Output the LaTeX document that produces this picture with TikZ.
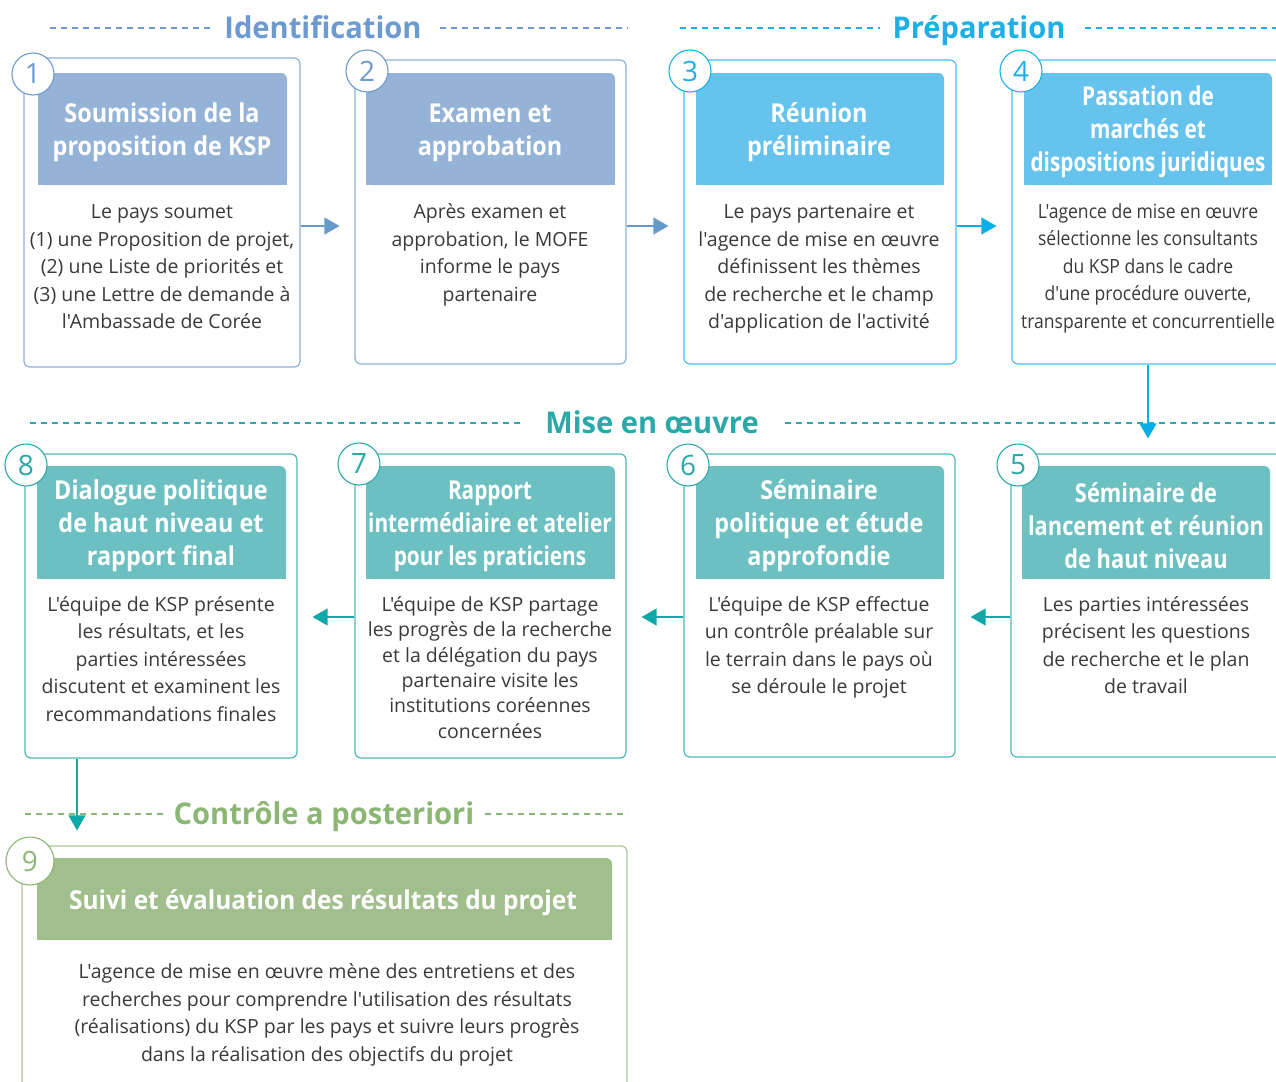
\documentclass[tikz,border=0pt]{standalone}
\usepackage{fontspec}
\usetikzlibrary{arrows.meta}
\newfontfamily\bodyfont{Open Sans}
\newfontfamily\bodycond{Open Sans}[FakeStretch=0.9]
\newfontfamily\hdfont{Open Sans}[FakeStretch=0.9]
\newfontfamily\hdcond{Open Sans}[FakeStretch=0.8]
\newfontfamily\hdcondb{Open Sans}[FakeStretch=0.84]
\newfontfamily\hdwide{Open Sans}[FakeStretch=0.94]
\newfontfamily\secfont{Open Sans}[FakeStretch=0.97]
\definecolor{idhead}{HTML}{6D9AD0}
\definecolor{idfill}{HTML}{95B3D7}
\definecolor{idline}{HTML}{8DB0DA}
\definecolor{idarrow}{HTML}{6699CC}
\definecolor{prhead}{HTML}{1CB0E6}
\definecolor{prfill}{HTML}{66C3EE}
\definecolor{prline}{HTML}{4CBEEA}
\definecolor{prarrow}{HTML}{0AAEE6}
\definecolor{mihead}{HTML}{2BA9A9}
\definecolor{mifill}{HTML}{6CC0C2}
\definecolor{miline}{HTML}{4FB8B8}
\definecolor{miarrow}{HTML}{10A7A8}
\definecolor{cohead}{HTML}{8BB673}
\definecolor{cofill}{HTML}{A1BF8C}
\definecolor{coline}{HTML}{A9C997}
\definecolor{txt}{HTML}{3A3A3A}
\newcommand\hdrbox[5]{%
  \fill[#1,rounded corners=6pt] (#2,#3) rectangle (#4,#5);
  \fill[#1] (#2,#3) rectangle ({#4-7},#5);
  \fill[#1] (#2,{#3+7}) rectangle (#4,#5);}
\tikzset{
  box/.style={draw=#1, line width=1.2pt, rounded corners=6pt, inner sep=0pt, fill=white},
  num/.style={circle, draw=#1, fill=white, line width=1.1pt, minimum size=42pt, inner sep=0pt,
    text=#1, font=\bodyfont\fontsize{28}{28}\selectfont},
  htext/.style={align=center, text=white, inner sep=0pt, font=\hdfont\bfseries\fontsize{26}{33}\selectfont},
  htextc/.style={align=center, text=white, inner sep=0pt, font=\hdcond\bfseries\fontsize{26}{33}\selectfont},
  btext/.style={align=center, text=txt, inner sep=0pt, font=\bodyfont\fontsize{19.5}{27.5}\selectfont},
  btextc/.style={align=center, text=txt, inner sep=0pt, font=\bodycond\fontsize{19.5}{27.5}\selectfont},
  sec/.style={anchor=base, inner sep=0pt, text=#1, font=\secfont\bfseries\fontsize{30}{30}\selectfont},
  dsh/.style={draw=#1, line width=1.3pt, dash pattern=on 6pt off 5pt},
  arr/.style={draw=#1, line width=1.3pt, -{Triangle[length=15pt,width=17pt]}, shorten >=15pt},
}
\begin{document}
\begin{tikzpicture}[x=1pt,y=-1pt]
\useasboundingbox (0,0) rectangle (1276,1081);
\clip (0,0) rectangle (1276,1081);

% ---------- section headings
\node[sec=idhead] (s1) at (323,39) {Identification};
\draw[dsh=idhead] (50,28) -- (212,28);
\draw[dsh=idhead] (440,28) -- (628,28);
\node[sec=prhead] (s2) at (979,39) {Préparation};
\draw[dsh=prhead] (680,28) -- (880,28);
\draw[dsh=prhead] (1085,28) -- (1276,28);
\node[sec=mihead] (s3) at (652,433) {Mise en œuvre};
\draw[dsh=mihead] (30,423) -- (520,423);
\draw[dsh=mihead] (785,423) -- (1276,423);
\node[sec=cohead] (s4) at (324,824) {Contrôle a posteriori};
\draw[dsh=cohead] (25,814) -- (165,814);
\draw[dsh=cohead] (485,814) -- (628,814);

% ---------- row 1 boxes
\node[box=idline, minimum width=276pt, minimum height=309pt] (b1) at (162,212.5) {};
\node[box=idline, minimum width=271pt, minimum height=304pt] (b2) at (490.5,212) {};
\node[box=prline, minimum width=272pt, minimum height=304pt] (b3) at (820,212) {};
\node[box=prline, minimum width=290pt, minimum height=304pt] (b4) at (1157,212) {};

% ---------- row 2 boxes
\node[box=miline, minimum width=272pt, minimum height=304pt] (b8) at (161,606) {};
\node[box=miline, minimum width=271pt, minimum height=304pt] (b7) at (490.5,606) {};
\node[box=miline, minimum width=271pt, minimum height=303pt] (b6) at (819.5,605.5) {};
\node[box=miline, minimum width=290pt, minimum height=303pt] (b5) at (1156,605.5) {};

% ---------- box 9
\node[box=coline, minimum width=605pt, minimum height=260pt] (b9) at (324.5,976) {};

% ---------- headers
\hdrbox{idfill}{38}{73}{287}{185}
\hdrbox{idfill}{366}{73}{615}{185}
\hdrbox{prfill}{696}{73}{944}{185}
\hdrbox{prfill}{1024}{73}{1272}{185}
\hdrbox{mifill}{37}{466}{286}{579}
\hdrbox{mifill}{366}{466}{615}{579}
\hdrbox{mifill}{696}{466}{944}{579}
\hdrbox{mifill}{1022}{466}{1270}{579}
\hdrbox{cofill}{37}{858}{612}{940}

\node[htext] (h1) at (162,132.5) {Soumission de la\\proposition de KSP};
\node[htext] (h2) at (490,132.5) {Examen et\\approbation};
\node[htext] (h3) at (819,132.5) {Réunion\\préliminaire};
\node[htextc] (h4) at (1148,132) {Passation de\\marchés et\\dispositions juridiques};
\node[htext] (h8) at (161,526) {Dialogue politique\\de haut niveau et\\rapport final};
\node[htextc] (h7) at (490,526) {Rapport\\intermédiaire et atelier\\pour les praticiens};
\node[htext] (h6) at (819,526) {Séminaire\\politique et étude\\approfondie};
\node[htextc, font=\hdcondb\bfseries\fontsize{26}{33}\selectfont] (h5) at (1146,526) {Séminaire de\\lancement et réunion\\de haut niveau};
\node[htext, font=\hdwide\bfseries\fontsize{26}{33}\selectfont] (h9) at (323,903) {Suivi et évaluation des résultats du projet};

% ---------- body texts
\node[btext] (t1) at (162,267) {Le pays soumet\\(1) une Proposition de projet,\\(2) une Liste de priorités et\\(3) une Lettre de demande à\\l'Ambassade de Corée};
\node[btext] (t2) at (490,255) {Après examen et\\approbation, le MOFE\\informe le pays\\partenaire};
\node[btext] (t3) at (819,269) {Le pays partenaire et\\l'agence de mise en œuvre\\définissent les thèmes\\de recherche et le champ\\d'application de l'activité};
\node[btextc] (t4) at (1148,268) {L'agence de mise en œuvre\\sélectionne les consultants\\du KSP dans le cadre\\d'une procédure ouverte,\\transparente et concurrentielle};
\node[btext] (t8) at (161,659) {L'équipe de KSP présente\\les résultats, et les\\parties intéressées\\discutent et examinent les\\recommandations finales};
\node[btext, font=\bodyfont\fontsize{19.5}{25.4}\selectfont] (t7) at (490,667.5) {L'équipe de KSP partage\\les progrès de la recherche\\et la délégation du pays\\partenaire visite les\\institutions coréennes\\concernées};
\node[btext] (t6) at (819,647.5) {L'équipe de KSP effectue\\un contrôle préalable sur\\le terrain dans le pays où\\se déroule le projet};
\node[btext] (t5) at (1146,645) {Les parties intéressées\\précisent les questions\\de recherche et le plan\\de travail};
\node[btext] (t9) at (327,1015) {L'agence de mise en œuvre mène des entretiens et des\\recherches pour comprendre l'utilisation des résultats\\(réalisations) du KSP par les pays et suivre leurs progrès\\dans la réalisation des objectifs du projet};

% ---------- number circles
\node[num=idhead] (n1) at (33,74) {1};
\node[num=idhead] (n2) at (367,71) {2};
\node[num=prhead] (n3) at (690,71) {3};
\node[num=prhead] (n4) at (1021,71) {4};
\node[num=mihead] (n5) at (1018,465) {5};
\node[num=mihead] (n6) at (688,465) {6};
\node[num=mihead] (n7) at (359,464) {7};
\node[num=mihead] (n8) at (26,465) {8};
\node[num=cohead, minimum size=48pt] (n9) at (30,861) {9};

% ---------- arrows
\coordinate (r1) at (0,226);
\coordinate (r2) at (0,617);
\coordinate (c4) at (1148,0);
\coordinate (c8) at (77,0);
\draw[arr=idarrow] (b1.east |- r1) -- (b2.west |- r1);
\draw[arr=idarrow] (b2.east |- r1) -- (b3.west |- r1);
\draw[arr=prarrow] (b3.east |- r1) -- (b4.west |- r1);
\draw[arr=prarrow] (b4.south -| c4) -- (b5.north -| c4);
\draw[arr=miarrow] (b5.west |- r2) -- (b6.east |- r2);
\draw[arr=miarrow] (b6.west |- r2) -- (b7.east |- r2);
\draw[arr=miarrow] (b7.west |- r2) -- (b8.east |- r2);
\draw[arr=miarrow] (b8.south -| c8) -- (b9.north -| c8);
\end{tikzpicture}
\end{document}
